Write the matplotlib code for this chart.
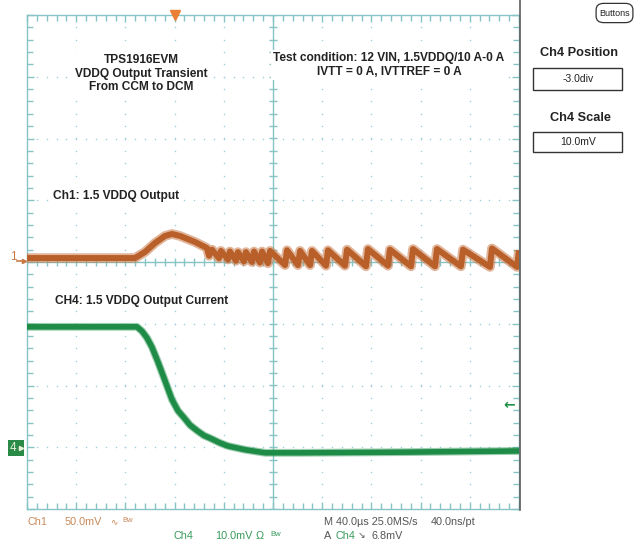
import matplotlib
matplotlib.use('Agg')
import matplotlib.pyplot as plt
import numpy as np
from matplotlib import font_manager
from matplotlib.patches import Rectangle, FancyBboxPatch
from matplotlib.lines import Line2D
from matplotlib.ticker import MultipleLocator

# ---------------- data (time in µs, voltage in mV) ----------------
ch1_time = [0, 87.8, 95.9, 104.1, 112.2, 117.9, 124.4, 136.6, 146.3,
            148.0, 150.4, 156.1, 157.7, 163.4, 165.0, 169.9, 171.5, 176.4, 178.0,
            182.9, 184.6, 189.4, 191.1, 195.9, 197.6, 209.8, 211.4, 220.3, 222.0,
            230.1, 231.7, 243.1, 244.7, 258.5, 260.2, 275.6, 277.2, 293.5, 295.1,
            312.2, 313.8, 331.7, 333.3, 352.8, 354.5, 376.4, 378.0, 398.4, 400.0]
ch1_mv = [3.2, 3.2, 8.1, 15.4, 21.1, 22.7, 21.1, 16.2, 11.3,
          5.0, 10.0, 3.0, 9.0, 2.0, 8.5, 1.0, 8.0, 0.5, 8.0,
          0.0, 8.5, -0.5, 8.5, -1.0, 9.0, -2.5, 9.5, -2.5, 9.0,
          -2.5, 9.0, -3.0, 9.5, -3.0, 10.0, -3.5, 10.5, -3.0, 10.0,
          -3.5, 10.5, -3.5, 10.5, -3.5, 10.0, -4.0, 11.0, -4.0, 9.5]

ch4_time = [0, 89.4, 93.5, 97.6, 101.6, 106.5, 111.4, 117.9, 122.8, 127.6,
            132.5, 138.2, 143.9, 149.6, 156.9, 163.4, 177.2, 193.5, 222.0, 303.3, 400.0]
ch4_mv = [19.5, 19.5, 18.8, 17.7, 16.2, 13.8, 11.2, 7.7, 5.9, 4.8,
          3.6, 2.7, 1.9, 1.4, 0.7, 0.2, -0.4, -0.9, -0.9, -0.8, -0.6]

ch1_scale_mv = 50.0      # mV/div
ch4_scale_mv = 10.0      # mV/div
ch4_position_div = -3.0
time_per_div = 40.0      # µs/div
trigger_time = 120.0     # µs
trigger_level_mv = 6.8

# ---------------- figure ----------------
W, H = 634, 543
fig = plt.figure(figsize=(W / 100, H / 100), dpi=100)
fig.patch.set_facecolor('white')

names = {f.name for f in font_manager.fontManager.ttflist}
NARROW = 'Liberation Sans Narrow' if 'Liberation Sans Narrow' in names else 'Liberation Sans'
BOLD = 'Liberation Sans'


def fx(x):
    return x / W


def fy(y):
    return 1 - y / H


L, R, T, B = 27, 519, 15, 509
ax = fig.add_axes([fx(L), fy(B), (R - L) / W, (B - T) / H])
ax.set_xlim(0, 10 * time_per_div)
ax.set_ylim(-4, 4)
ax.set_facecolor('white')

TEAL = '#86c4c6'
DOT = '#9dcfe0'

# dotted graticule
xs_major = np.arange(1, 10) * time_per_div
ys_major = np.arange(-3, 4)
ydots = np.arange(-4, 4.001, 0.2)
xdots = np.arange(0, 400.001, time_per_div / 5)
for xm in xs_major:
    if abs(xm - 200) < 1e-6:
        continue
    ax.scatter(np.full_like(ydots, xm), ydots, s=1.2, color=DOT, lw=0, zorder=1)
for ym in ys_major:
    if ym == 0:
        continue
    ax.scatter(xdots, np.full_like(xdots, ym), s=1.2, color=DOT, lw=0, zorder=1)

# centre cross with ticks
ax.axhline(0, color=TEAL, lw=1.0, zorder=1)
ax.axvline(200, color=TEAL, lw=1.0, zorder=1)
ax.vlines(xdots, -0.06, 0.06, color=TEAL, lw=1.0, zorder=1)
ax.hlines(ydots, 200 - 3.4, 200 + 3.4, color=TEAL, lw=1.0, zorder=1)

for s in ax.spines.values():
    s.set_color(TEAL)
    s.set_linewidth(1.0)
ax.xaxis.set_major_locator(MultipleLocator(time_per_div))
ax.xaxis.set_minor_locator(MultipleLocator(time_per_div / 5))
ax.yaxis.set_major_locator(MultipleLocator(1))
ax.yaxis.set_minor_locator(MultipleLocator(0.2))
ax.tick_params(which='both', direction='in', top=True, right=True, color=TEAL,
               labelbottom=False, labelleft=False, width=1.0)
ax.tick_params(which='major', length=5)
ax.tick_params(which='minor', length=4)

# traces (fuzzy outer band + core)
ch1_div = np.array(ch1_mv) / ch1_scale_mv
ch4_div = np.array(ch4_mv) / ch4_scale_mv + ch4_position_div
ax.plot(ch1_time, ch1_div, color='#c97a4a', lw=7.0, alpha=0.55,
        solid_joinstyle='round', solid_capstyle='butt', zorder=3)
ax.plot(ch1_time, ch1_div, color='#b95f29', lw=4.3, solid_joinstyle='round',
        solid_capstyle='butt', zorder=4)
ax.plot(ch4_time, ch4_div, color='#3a9c5e', lw=5.6, alpha=0.5,
        solid_joinstyle='round', solid_capstyle='butt', zorder=3)
ax.plot(ch4_time, ch4_div, color='#1e8c47', lw=4.0, solid_joinstyle='round',
        solid_capstyle='butt', zorder=4)

# trigger marker at top
ax.plot(trigger_time, 4, marker='v', color='#ea7f35', ms=7, clip_on=False, zorder=5)
# trigger level arrow
trig_div = trigger_level_mv / ch4_scale_mv + ch4_position_div
ax.text(392, trig_div, '\u2190', color='#1f8f48', fontsize=10, fontweight='bold',
        ha='center', va='center', zorder=5)

# channel markers on the left
fig.text(fx(13), fy(257), '1', color='#c87a45', fontsize=8.5, family=NARROW,
         ha='center', va='center')
fig.add_artist(Line2D([fx(17), fx(24)], [fy(261), fy(261)], color='#c87a45', lw=1.2))
fig.add_artist(Line2D([fx(24)], [fy(261)], marker='>', color='#c87a45', ms=3))
fig.add_artist(Rectangle((fx(8), fy(456)), 16 / W, 16 / H, transform=fig.transFigure,
                         facecolor='#2a8a48', edgecolor='none'))
fig.text(fx(13.5), fy(448), '4', color='#e8f0d8', fontsize=8.5, family=NARROW,
         ha='center', va='center')
fig.add_artist(Line2D([fx(21)], [fy(448)], marker='>', color='#e8f0d8', ms=3))

# annotations
bb = dict(facecolor='white', edgecolor='none', pad=1.5)
AFS = 8.6
fig.text(fx(141), fy(73.5), 'TPS1916EVM\nVDDQ Output Transient\nFrom CCM to DCM',
         family=BOLD, fontweight='bold', fontsize=AFS, ha='center', va='center',
         linespacing=1.18, color='#222222', bbox=bb)
fig.text(fx(389), fy(65), 'Test condition: 12 VIN, 1.5VDDQ/10 A-0 A\nIVTT = 0 A, IVTTREF = 0 A',
         family=BOLD, fontweight='bold', fontsize=AFS, ha='center', va='center',
         linespacing=1.18, color='#222222', bbox=bb)
fig.text(fx(53), fy(196), 'Ch1: 1.5 VDDQ Output', family=BOLD, fontweight='bold',
         fontsize=AFS, ha='left', va='center', color='#222222', bbox=bb)
fig.text(fx(55), fy(301), 'CH4: 1.5 VDDQ Output Current', family=BOLD, fontweight='bold',
         fontsize=AFS, ha='left', va='center', color='#222222', bbox=bb)

# right-side panel
fig.add_artist(Line2D([fx(520), fx(520)], [fy(0), fy(510)], color='#5e5e5e', lw=1.2))
fig.add_artist(FancyBboxPatch((fx(598), fy(21)), 33 / W, 16 / H,
                              boxstyle='round,pad=0.003,rounding_size=0.012',
                              transform=fig.transFigure, facecolor='white',
                              edgecolor='#333333', lw=0.9))
fig.text(fx(614.5), fy(13), 'Buttons', family=NARROW, fontsize=6.5, ha='center',
         va='center', color='#222222')
fig.text(fx(579), fy(53), 'Ch4 Position', family=NARROW, fontweight='bold', fontsize=9.2,
         ha='center', va='center', color='#222222')
fig.add_artist(Rectangle((fx(533), fy(90)), 89 / W, 22 / H, transform=fig.transFigure,
                         facecolor='white', edgecolor='#333333', lw=1.0))
fig.text(fx(578), fy(79), '-3.0div', family=NARROW, fontsize=7.5, ha='center',
         va='center', color='#222222')
fig.text(fx(580), fy(118), 'Ch4 Scale', family=NARROW, fontweight='bold', fontsize=9.2,
         ha='center', va='center', color='#222222')
fig.add_artist(Rectangle((fx(533), fy(152)), 89 / W, 20 / H, transform=fig.transFigure,
                         facecolor='white', edgecolor='#333333', lw=1.0))
fig.text(fx(578), fy(142), '10.0mV', family=NARROW, fontsize=7.5, ha='center',
         va='center', color='#222222')

# bottom status lines
C1 = '#c9895a'
C4 = '#3a9a5c'
GR = '#555555'
st = dict(family=NARROW, fontsize=7.8, va='center')
fig.text(fx(27), fy(522), 'Ch1', color=C1, **st)
fig.text(fx(65), fy(522), '50.0mV', color=C1, **st)
fig.text(fx(110), fy(522), '\u223f', color=C1, family='DejaVu Sans', fontsize=6.5, va='center')
fig.text(fx(122), fy(521), 'Bw', color=C1, family=NARROW, fontsize=5.5, va='center')
fig.text(fx(174), fy(536), 'Ch4', color=C4, **st)
fig.text(fx(215), fy(536), '10.0mV', color=C4, **st)
fig.text(fx(256), fy(536), '\u03a9', color=C4, **st)
fig.text(fx(270), fy(535), 'Bw', color=C4, family=NARROW, fontsize=5.5, va='center')
fig.text(fx(324), fy(522), 'M 40.0\u00b5s 25.0MS/s', color=GR, **st)
fig.text(fx(431), fy(522), '40.0ns/pt', color=GR, **st)
fig.text(fx(324), fy(536), 'A', color=GR, **st)
fig.text(fx(336), fy(536), 'Ch4', color=C4, **st)
fig.text(fx(358), fy(536), '\u2198', color=GR, family='DejaVu Sans', fontsize=6.5, va='center')
fig.text(fx(372), fy(536), '6.8mV', color=GR, **st)

fig.savefig('out.png', dpi=100)
